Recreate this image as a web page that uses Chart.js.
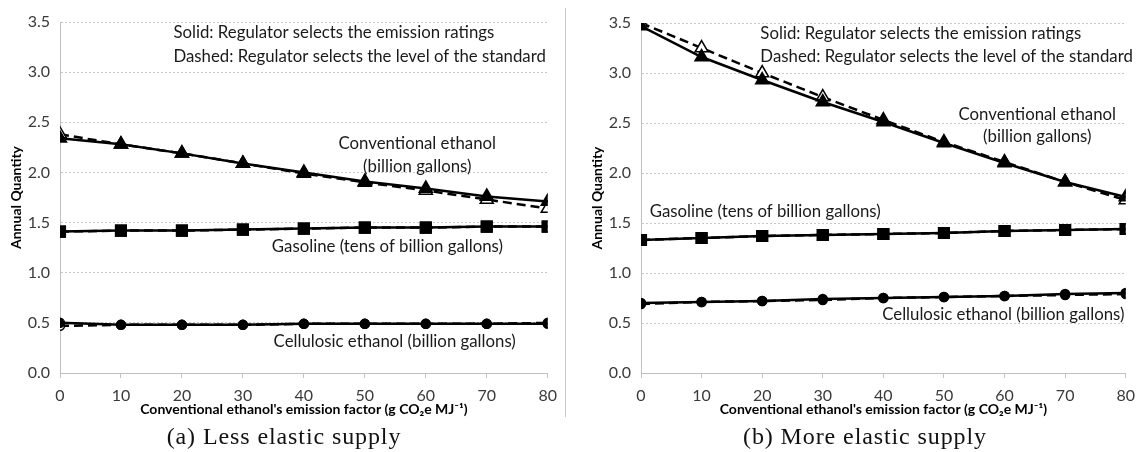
<!DOCTYPE html>
<html>
<head>
<meta charset="utf-8">
<script src="https://cdn.jsdelivr.net/npm/chart.js@4.4.1/dist/chart.umd.min.js"></script>
<style>
  body { margin: 0; background: #fff; width: 1143px; height: 452px; position: relative; overflow: hidden; }
  .box { position: absolute; top: 0; height: 452px; }
  #boxA { left: 0; width: 565px; }
  #boxB { left: 566px; width: 577px; }
  .divider { position: absolute; left: 565px; top: 8px; width: 1px; height: 409px; background: #c8c8c8; }
  .cap { position: absolute; top: 423px; font-family: "Liberation Serif", serif; font-size: 24px; color: #111;
         letter-spacing: 0.9px; transform: translateX(-50%); white-space: nowrap; }
</style>
</head>
<body>
<div class="box" id="boxA"><canvas id="chartA" width="565" height="452"></canvas></div>
<div class="divider"></div>
<div class="box" id="boxB"><canvas id="chartB" width="577" height="452"></canvas></div>
<div class="cap" style="left:284px">(a) Less elastic supply</div>
<div class="cap" style="left:865px">(b) More elastic supply</div>

<script>
// emission factor of conventional ethanol (g CO2e / MJ)
const emission = [0, 10, 20, 30, 40, 50, 60, 70, 80];
const yTicks = [0, 0.5, 1.0, 1.5, 2.0, 2.5, 3.0, 3.5];

// (a) less elastic supply
const convSolidA = [2.34, 2.28, 2.19, 2.09, 2.00, 1.91, 1.84, 1.76, 1.71];
const convDashA  = [2.38, 2.28, 2.19, 2.09, 1.99, 1.90, 1.82, 1.73, 1.64];
const gasSolidA  = [1.41, 1.42, 1.42, 1.43, 1.44, 1.45, 1.45, 1.46, 1.46];
const gasDashA   = [1.41, 1.42, 1.42, 1.43, 1.44, 1.45, 1.45, 1.46, 1.46];
const cellSolidA = [0.50, 0.48, 0.48, 0.48, 0.49, 0.49, 0.49, 0.49, 0.49];
const cellDashA  = [0.47, 0.48, 0.48, 0.48, 0.49, 0.49, 0.49, 0.49, 0.50];

// (b) more elastic supply
const convSolidB = [3.47, 3.16, 2.93, 2.71, 2.51, 2.30, 2.10, 1.91, 1.76];
const convDashB  = [3.50, 3.25, 3.00, 2.76, 2.53, 2.31, 2.11, 1.91, 1.73];
const gasSolidB  = [1.33, 1.35, 1.37, 1.38, 1.39, 1.40, 1.42, 1.43, 1.44];
const gasDashB   = [1.33, 1.35, 1.37, 1.38, 1.39, 1.40, 1.42, 1.43, 1.44];
const cellSolidB = [0.70, 0.71, 0.72, 0.74, 0.75, 0.76, 0.77, 0.79, 0.80];
const cellDashB  = [0.69, 0.71, 0.72, 0.73, 0.75, 0.76, 0.77, 0.78, 0.79];

const TEXT_FONT = 'Lato, "Open Sans", sans-serif';

// text labels placed in data units
const notesA = [
  { text: 'Solid: Regulator selects the emission ratings', x: 18.6, y: 3.39, align: 'left' },
  { text: 'Dashed: Regulator selects the level of the standard', x: 18.6, y: 3.16, align: 'left' },
  { text: 'Conventional ethanol', x: 58.6, y: 2.29, align: 'center' },
  { text: '(billion gallons)', x: 58.6, y: 2.06, align: 'center' },
  { text: 'Gasoline (tens of billion gallons)', x: 53.7, y: 1.26, align: 'center' },
  { text: 'Cellulosic ethanol (billion gallons)', x: 54.9, y: 0.31, align: 'center' }
];
const notesB = [
  { text: 'Solid: Regulator selects the emission ratings', x: 19.7, y: 3.39, align: 'left' },
  { text: 'Dashed: Regulator selects the level of the standard', x: 19.7, y: 3.16, align: 'left' },
  { text: 'Conventional ethanol', x: 65.4, y: 2.58, align: 'center' },
  { text: '(billion gallons)', x: 65.4, y: 2.36, align: 'center' },
  { text: 'Gasoline (tens of billion gallons)', x: 20.5, y: 1.61, align: 'center' },
  { text: 'Cellulosic ethanol (billion gallons)', x: 59.8, y: 0.58, align: 'center' }
];

const notesPlugin = {
  id: 'notes',
  afterDatasetsDraw(chart, args, opts) {
    const { ctx, scales: { x, y } } = chart;
    ctx.save();
    ctx.font = '16.8px ' + TEXT_FONT;
    ctx.fillStyle = '#1a1a1a';
    ctx.textBaseline = 'middle';
    opts.items.forEach(n => {
      ctx.textAlign = n.align;
      ctx.fillText(n.text, x.getPixelForValue(n.x), y.getPixelForValue(n.y));
    });
    ctx.restore();
  }
};

function series(vals, shape, filled, dashed) {
  const radius = shape === 'circle' ? 4.5 : 7.5;
  return {
    data: emission.map((e, i) => ({ x: e, y: vals[i] })),
    borderColor: '#000',
    borderWidth: 2.5,
    borderDash: dashed ? [9, 5] : [],
    pointStyle: shape,
    pointRadius: radius,
    pointHoverRadius: radius,
    pointBackgroundColor: filled ? '#000' : '#fff',
    pointBorderColor: '#000',
    pointBorderWidth: 1.5,
    tension: 0,
    fill: false
  };
}

function makeChart(id, sets, notes, pad) {
  return new Chart(document.getElementById(id), {
    type: 'line',
    data: {
      datasets: [
        // solid (filled markers) first so they sit on top
        series(sets[0], 'triangle', true, false),
        series(sets[2], 'rect', true, false),
        series(sets[4], 'circle', true, false),
        series(sets[1], 'triangle', false, true),
        series(sets[3], 'rect', false, true),
        series(sets[5], 'circle', false, true)
      ]
    },
    options: {
      responsive: false,
      animation: false,
      devicePixelRatio: 1,
      layout: { padding: pad },
      scales: {
        x: {
          type: 'linear',
          min: 0, max: 80,
          afterFit(s) { s.height = 48; },
          ticks: { stepSize: 10, padding: 8, color: '#3a3a3a', font: { family: TEXT_FONT, size: 16 } },
          grid: { drawOnChartArea: false, drawTicks: true, tickLength: 5, color: '#c0c0c0' },
          border: { color: '#c0c0c0', width: 1 },
          title: {
            display: true,
            text: "Conventional ethanol's emission factor (g CO\u2082e MJ\u207B\u00B9)",
            color: '#000',
            font: { family: TEXT_FONT, size: 14, weight: 'bold' },
            padding: { top: 0, bottom: 3 }
          }
        },
        y: {
          min: yTicks[0], max: yTicks[yTicks.length - 1],
          afterFit(s) { s.width = 52; },
          afterBuildTicks(s) { s.ticks = yTicks.map(v => ({ value: v })); },
          ticks: { padding: 10, color: '#3a3a3a', font: { family: TEXT_FONT, size: 16 },
                   callback: v => Number(v).toFixed(1) },
          grid: { color: '#c8c8c8', lineWidth: 1, drawTicks: false },
          border: { color: '#c0c0c0', width: 1, dash: [2, 2] },
          title: {
            display: true,
            text: 'Annual Quantity',
            color: '#000',
            font: { family: TEXT_FONT, size: 14, weight: 'bold' },
            padding: { top: 0, bottom: 4 }
          }
        }
      },
      plugins: {
        legend: { display: false },
        tooltip: { enabled: false },
        notes: { items: notes }
      }
    },
    plugins: [notesPlugin]
  });
}

makeChart('chartA', [convSolidA, convDashA, gasSolidA, gasDashA, cellSolidA, cellDashA], notesA,
          { left: 8, top: 22, right: 14, bottom: 31 });
makeChart('chartB', [convSolidB, convDashB, gasSolidB, gasDashB, cellSolidB, cellDashB], notesB,
          { left: 23, top: 23, right: 10, bottom: 31 });
</script>
</body>
</html>
